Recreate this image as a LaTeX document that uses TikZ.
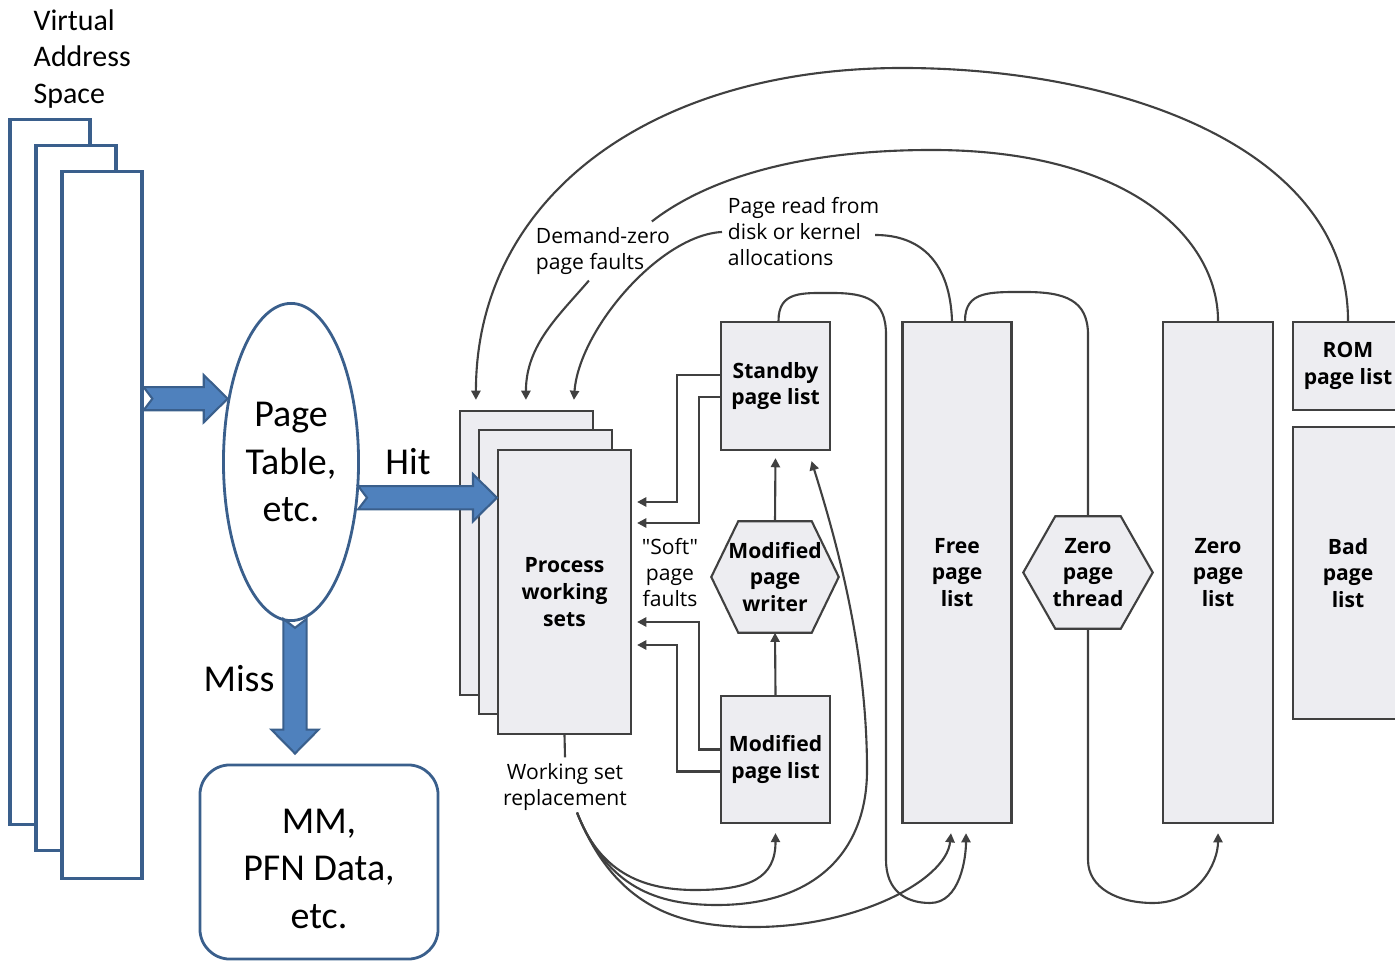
\documentclass[tikz,border=0pt]{standalone}
\usepackage{fontspec}
\usetikzlibrary{calc,arrows.meta,shapes.geometric,backgrounds}

\newfontfamily\calibri{Carlito}
\newfontfamily\wifont{Open Sans}

\definecolor{vablue}{RGB}{58,95,140}
\definecolor{arrblue}{RGB}{79,129,189}
\definecolor{listfill}{RGB}{237,237,241}
\definecolor{listline}{RGB}{64,64,64}

% Fat blue arrow from #1 to #2 (notched tail)
\newcommand\blockarrow[2]{%
  \coordinate (ba-h) at ($(#2)!6.8pt!(#1)$);
  \draw[blockarr] ($(#1)!3.3pt!90:(#2)$) -- ($(ba-h)!3.3pt!-90:(#1)$)
    -- ($(ba-h)!6.7pt!-90:(#1)$) -- (#2) -- ($(ba-h)!6.7pt!90:(#1)$)
    -- ($(ba-h)!3.3pt!90:(#1)$) -- ($(#1)!3.3pt!-90:(#2)$)
    -- ($(#1)!2.5pt!(#2)$) -- cycle;}

% Hexagon round a text node #1, corners cut by #2
\newcommand\hexframe[2]{%
  \draw[hexline] (#1.west) -- ($(#1.north west)+(#2,0)$) -- ($(#1.north east)+(-#2,0)$)
    -- (#1.east) -- ($(#1.south east)+(-#2,0)$) -- ($(#1.south west)+(#2,0)$) -- cycle;}

\begin{document}
\begin{tikzpicture}
[
    x=0.01cm, y=-0.01cm,
    vaspace/.style={draw=vablue, line width=0.9pt, fill=white,
        minimum width=0.8cm, minimum height=7.05cm, inner sep=0pt},
    bigtext/.style={font=\calibri\fontsize{10.8}{13.5}\selectfont, align=center},
    blockarr/.style={draw=vablue, line width=0.6pt, fill=arrblue},
    listtext/.style={inner sep=0pt, align=center,
        font=\wifont\bfseries\fontsize{6}{7.6}\selectfont},
    pagelist/.style={listtext, draw=listline, line width=0.6pt, fill=listfill},
    hexline/.style={draw=listline, line width=0.6pt, fill=listfill},
    note/.style={font=\wifont\fontsize{6}{7.4}\selectfont, inner sep=1.5pt},
    plain/.style={draw=listline, line width=0.6pt},
    flow/.style={plain, -{Triangle[length=2.6pt, width=2.6pt]}},
]

\useasboundingbox (0,0) rectangle (1395,962);

% Virtual address space
\node[vaspace] (vas1) at (50,472) {};
\node[vaspace] (vas2) at (76,498) {};
\node[vaspace, minimum height=7.06cm] (vas3) at (102,525) {};
\node
[
    font=\calibri\fontsize{8.5}{10.5}\selectfont,
    align=left, anchor=west, inner sep=0pt
] (vaslabel) at (33,59) {Virtual\\Address\\Space};

% Page table and PFN data
\node
[
    ellipse, draw=vablue, line width=0.8pt, inner sep=0pt,
    minimum width=1.35cm, minimum height=3.17cm, bigtext
] (pt) at (291,462) {Page\\Table,\\etc.};
\node[bigtext] (hit) at (408,462) {Hit};
\node[bigtext] (miss) at (239,679) {Miss};
\node
[
    draw=vablue, line width=0.8pt, rounded corners=0.3cm,
    minimum width=2.38cm, minimum height=1.94cm, bigtext, text height=37.8pt
] (mm) at (319,862) {MM,\\PFN Data,\\etc.};

% Page lists
\node[pagelist, minimum width=1.33cm, minimum height=2.84cm] (pwsA) at (526.5,553) {};
\node[pagelist, minimum width=1.33cm, minimum height=2.84cm] (pwsB) at (545.5,572) {};
\node[pagelist, minimum width=1.33cm, minimum height=2.84cm] (pwsC) at (564.5,592) {Process\\working\\sets};
\node[pagelist, minimum width=1.09cm, minimum height=1.28cm] (standby) at (775.5,386) {Standby\\page list};
\node[listtext, minimum width=1.26cm, minimum height=1.10cm] (mpw) at (775,577) {Modified\\page\\writer};
\node[pagelist, minimum width=1.09cm, minimum height=1.27cm] (modlist) at (775.5,759.5) {Modified\\page list};
\node[pagelist, minimum width=1.09cm, minimum height=5.01cm] (free) at (957,572.5) {Free\\page\\list};
\node[listtext, minimum width=1.28cm, minimum height=1.11cm] (zpt) at (1088,572.5) {Zero\\page\\thread};
\node[pagelist, minimum width=1.10cm, minimum height=5.01cm] (zero) at (1218,572.5) {Zero\\page\\list};
\node[pagelist, minimum width=1.10cm, minimum height=0.88cm] (rom) at (1348,366) {ROM\\page list};
\node[pagelist, minimum width=1.10cm, minimum height=2.92cm] (bad) at (1348,573) {Bad\\page\\list};

% Threads
\begin{scope}[on background layer]
  \hexframe{mpw}{27}
  \hexframe{zpt}{32}
\end{scope}

% Notes
\node[note, align=left, anchor=west] (dz) at (530,251) {Demand-zero\\page faults};
\node[note, align=left, anchor=west] (pread) at (722,232) {Page read from\\disk or kernel\\allocations};
\node[note, align=center] (soft) at (670,573) {"Soft"\\page\\faults};
\node[note, align=center] (wsr) at (565,787) {Working set\\replacement};

% Soft faults back to the working sets
\draw[flow] ($(standby.west)+(0,-11)$) -| ($(pwsC.east)+(45,-90)$) -- ($(pwsC.east)+(5,-90)$);
\draw[flow] ($(standby.west)+(0,11)$) -| ($(pwsC.east)+(67,-69)$) -- ($(pwsC.east)+(5,-69)$);
\draw[flow] ($(modlist.west)+(0,-10)$) -| ($(pwsC.east)+(67,30)$) -- ($(pwsC.east)+(5,30)$);
\draw[flow] ($(modlist.west)+(0,12)$) -| ($(pwsC.east)+(45,53)$) -- ($(pwsC.east)+(5,53)$);

% Modified page writer
\draw[flow] (modlist.north) -- (mpw.south);
\draw[flow, shorten >=2pt] (mpw.north) -- (standby.south);

% Working set replacement
\draw[plain] (pwsC.south) -- (wsr.north);
\coordinate (wsr-out) at ($(wsr.south)+(12,-4)$);
\draw[flow] (wsr-out) .. controls +(22,58) and +(-55,0) .. (695,890)
    .. controls +(55,0) and +(0,45) .. ($(modlist.south)+(0,9)$);
\draw[flow] (wsr-out) .. controls +(30,75) and +(-60,0) .. (717,905)
    .. controls +(100,0) and +(0,80) .. (867,770)
    .. controls +(0,-120) and +(25,80) .. ($(standby.south)+(36,10)$);
\draw[flow] (wsr-out) .. controls +(40,100) and +(-70,0) .. (755,927)
    .. controls +(100,0) and +(-5,48) .. ($(free.south)+(-6,9)$);

% Loops over the tops
\draw[flow] ($(standby.north)+(3,0)$) .. controls +(0,-30) and +(-30,0) .. (832,293)
    .. controls +(35,0) and +(0,-35) .. (886,335) -- (886,860)
    .. controls +(0,30) and +(-25,0) .. (930,903)
    .. controls +(30,0) and +(0,25) .. ($(free.south)+(9,9)$);
\draw[plain] ($(free.north)+(8,0)$) .. controls +(0,-30) and +(-35,0) .. (1025,292)
    .. controls +(40,0) and +(0,-35) .. (1088,335) -- (zpt.north);
\draw[flow] (zpt.south) -- (1088,860) .. controls +(0,28) and +(-35,0) .. (1153,903)
    .. controls +(45,0) and +(0,30) .. ($(zero.south)+(0,9)$);

% Big arcs into the working sets
\draw[flow] (rom.north) .. controls +(0,-172) and +(220,0) .. (902,68)
    .. controls +(-252,0) and +(0,-202) .. ($(pwsA.north west)+(17,-10)$);
\draw[plain] (zero.north) .. controls +(0,-82) and +(198,0) .. (932,150)
    .. controls +(-150,0) and +(45,-35) .. ($(dz.north east)+(-24,0)$);
\draw[flow] ($(dz.south)+(-14,0)$) .. controls +(-30,35) and +(0,-55) .. ($(pwsA.north west)+(67,-10)$);
\draw[plain] ($(free.north)+(-5,0)$) .. controls +(-2,-57) and +(47,0) .. ($(pread.east)+(-10,3)$);
\draw[flow] (pread.west) .. controls +(-62,3) and +(5,-70) .. ($(pwsA.north west)+(115,-10)$);

% Blue arrows
\coordinate (va-out) at (vas3.east |- pt.135);
\blockarrow{va-out}{pt.135}
\coordinate (hit-in) at (pt.332 -| pwsC.west);
\blockarrow{pt.332}{hit-in}
\coordinate (miss-a) at ($(pt.south)+(4,-3)$);
\coordinate (miss-b) at ($(mm.north)+(-24,-10)$);
\blockarrow{miss-a}{miss-b}

\end{tikzpicture}
\end{document}
